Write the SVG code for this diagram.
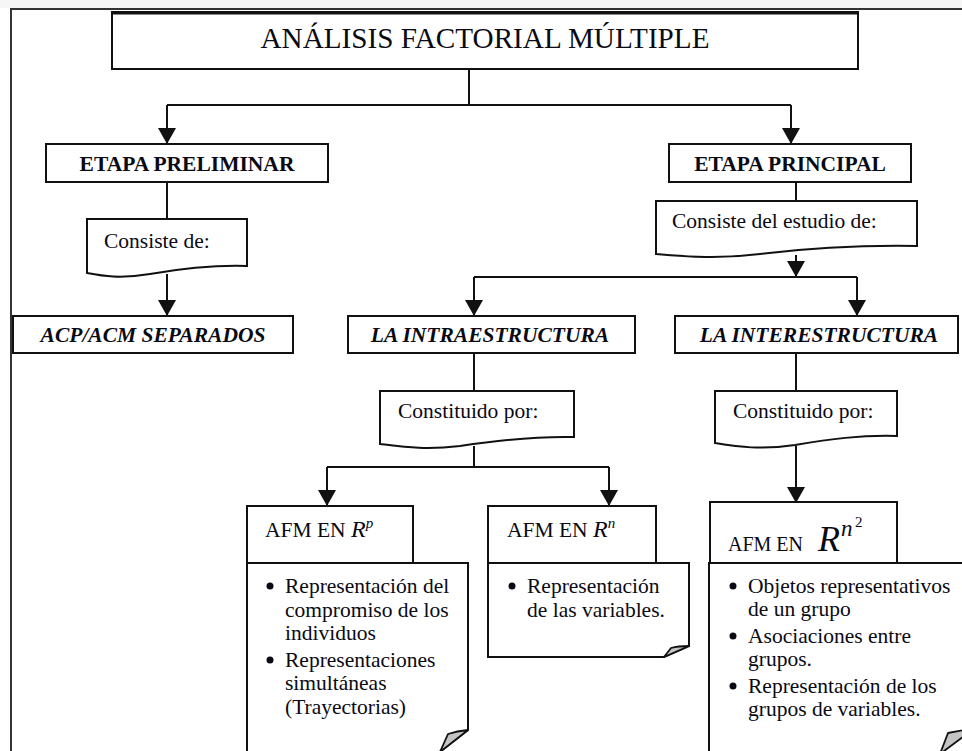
<svg xmlns="http://www.w3.org/2000/svg" width="962" height="751" viewBox="0 0 962 751">
<style>
.box{fill:#fff;stroke:#111;stroke-width:2}
.doc{fill:#fff;stroke:#111;stroke-width:2;stroke-linejoin:miter}
.flap{fill:#c4c4c4;stroke:#111;stroke-width:1.8;stroke-linejoin:round}
.ln{fill:none;stroke:#111;stroke-width:2}
.t{font-family:"Liberation Serif","Times New Roman",serif;font-size:21.5px;fill:#0a0a14}
.h{font-family:"Liberation Serif","Times New Roman",serif;font-size:21.5px;font-weight:bold;fill:#0a0a14;text-anchor:middle}
.hi{font-style:italic}
.it{font-style:italic}
.bul{fill:#0a0a14}
</style>
<defs>
<marker id="arr" markerUnits="userSpaceOnUse" viewBox="0 0 16 18" refX="16" refY="9" markerWidth="16" markerHeight="18" orient="auto">
<path d="M0,0 L16,9 L0,18 Z" fill="#111"/>
</marker>
</defs>
<rect x="0" y="0" width="962" height="8" fill="#f6f6f6"/>
<g id="frame">
<path d="M11,751 V9 H962" fill="none" stroke="#333" stroke-width="2"/>
</g>
<g id="title">
<rect class="box" x="112" y="12" width="746" height="57"/>
<line x1="111" y1="13" x2="859" y2="13" stroke="#111" stroke-width="3"/>
<text x="485" y="48" font-family="Liberation Serif, Times New Roman, serif" font-size="29" fill="#0a0a14" text-anchor="middle" textLength="449" lengthAdjust="spacingAndGlyphs">ANÁLISIS FACTORIAL MÚLTIPLE</text>
</g>
<g id="connectors">
<path class="ln" d="M469,69 V105 M167,105 H791"/>
<path class="ln" d="M167,105 V144" marker-end="url(#arr)"/>
<path class="ln" d="M791,105 V144" marker-end="url(#arr)"/>
<path class="ln" d="M167,182 V219"/>
<path class="ln" d="M167,274 V316" marker-end="url(#arr)"/>
<path class="ln" d="M796,182 V201"/>
<path class="ln" d="M796,255 V277" marker-end="url(#arr)"/>
<path class="ln" d="M474,277 H857"/>
<path class="ln" d="M474,277 V316" marker-end="url(#arr)"/>
<path class="ln" d="M857,277 V316" marker-end="url(#arr)"/>
<path class="ln" d="M474,353 V391"/>
<path class="ln" d="M474,446 V467 M327,467 H609"/>
<path class="ln" d="M327,467 V506" marker-end="url(#arr)"/>
<path class="ln" d="M609,467 V506" marker-end="url(#arr)"/>
<path class="ln" d="M796,353 V391"/>
<path class="ln" d="M796,446 V503" marker-end="url(#arr)"/>
</g>
<g id="etapa-preliminar">
<rect class="box" x="46" y="144" width="282" height="38"/>
<text class="h" x="187" y="171">ETAPA PRELIMINAR</text>
</g>
<g id="etapa-principal">
<rect class="box" x="669" y="144" width="242" height="38"/>
<text class="h" x="790" y="171">ETAPA PRINCIPAL</text>
</g>
<g id="consiste-de">
<path class="doc" d="M87,219 H247 V266 C215,265 185,268 150,274 C120,279 103,276 87,273 Z"/>
<text class="t" x="104" y="248">Consiste de:</text>
</g>
<g id="consiste-estudio">
<path class="doc" d="M656,201 H917 V246 C860,245 810,248 760,254 C720,259 690,257 656,254 Z"/>
<text class="t" x="672" y="228">Consiste del estudio de:</text>
</g>
<g id="acp-acm">
<rect class="box" x="13" y="316" width="280" height="37"/>
<text class="h hi" x="153" y="342">ACP/ACM SEPARADOS</text>
</g>
<g id="intraestructura">
<rect class="box" x="348" y="316" width="287" height="37"/>
<text class="h hi" x="490" y="342">LA INTRAESTRUCTURA</text>
</g>
<g id="interestructura">
<rect class="box" x="675" y="316" width="283" height="37"/>
<text class="h hi" x="819" y="342">LA INTERESTRUCTURA</text>
</g>
<g id="constituido-intra">
<path class="doc" d="M380,391 H574 V437 C535,436 500,440 460,446 C425,450 405,447 380,444 Z"/>
<text class="t" x="398" y="418">Constituido por:</text>
</g>
<g id="constituido-inter">
<path class="doc" d="M715,391 H897 V436 C860,435 830,439 795,445 C760,450 740,447 715,443 Z"/>
<text class="t" x="733" y="418">Constituido por:</text>
</g>
<g id="afm-rp">
<rect class="box" x="247" y="506" width="166" height="57"/>
<text class="t" x="265" y="537">AFM EN <tspan class="it" style="font-size:24px">R</tspan><tspan class="it" style="font-size:15px" dy="-9">p</tspan></text>
</g>
<g id="afm-rp-list">
<path class="doc" d="M247,563 H468 V730 L437,754 H247 Z"/>
<path class="flap" d="M468,730 Q457,731 448,734 L440,752 Z"/>
<circle class="bul" cx="270" cy="586" r="3.5"/>
<text class="t" x="285" y="593">Representación del</text>
<text class="t" x="285" y="617">compromiso de los</text>
<text class="t" x="285" y="640">individuos</text>
<circle class="bul" cx="270" cy="660" r="3.5"/>
<text class="t" x="285" y="667">Representaciones</text>
<text class="t" x="285" y="690">simultáneas</text>
<text class="t" x="285" y="714">(Trayectorias)</text>
</g>
<g id="afm-rn">
<rect class="box" x="488" y="506" width="168" height="57"/>
<text class="t" x="507" y="537">AFM EN <tspan class="it" style="font-size:24px">R</tspan><tspan class="it" style="font-size:15px" dy="-9">n</tspan></text>
</g>
<g id="afm-rn-list">
<path class="doc" d="M488,563 H689 V646 L664,657 H488 Z"/>
<path class="flap" d="M689,646 Q678,646 671,648 L664,657 Z"/>
<circle class="bul" cx="512" cy="586" r="3.5"/>
<text class="t" x="527" y="593">Representación</text>
<text class="t" x="527" y="617">de las variables.</text>
</g>
<g id="afm-rn2">
<rect class="box" x="710" y="502" width="187" height="61"/>
<text class="t" x="728" y="551" style="font-size:20px">AFM EN</text>
<text class="t it" x="818" y="551" style="font-size:36px">R</text>
<text class="t it" x="841" y="536" style="font-size:23px">n</text>
<text class="t" x="855" y="527" style="font-size:15px">2</text>
</g>
<g id="afm-rn2-list">
<path class="doc" d="M709,760 V563 H975"/>
<path class="flap" d="M975,728 L948,733 L940,754 Z"/>
<circle class="bul" cx="733" cy="586" r="3.5"/>
<text class="t" x="748" y="593">Objetos representativos</text>
<text class="t" x="748" y="616">de un grupo</text>
<circle class="bul" cx="733" cy="636" r="3.5"/>
<text class="t" x="748" y="643">Asociaciones entre</text>
<text class="t" x="748" y="666">grupos.</text>
<circle class="bul" cx="733" cy="686" r="3.5"/>
<text class="t" x="748" y="693">Representación de los</text>
<text class="t" x="748" y="716">grupos de variables.</text>
</g>
</svg>
